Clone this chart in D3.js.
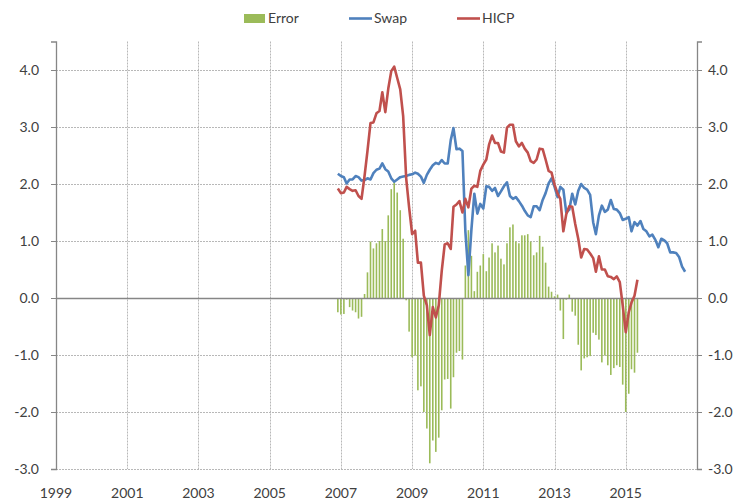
<!DOCTYPE html>
<html>
<head>
<meta charset="utf-8">
<script src="https://cdn.jsdelivr.net/npm/d3@7"></script>
<style>
  body { margin: 0; background: #fff; }
  svg { display: block; font-family: Lato, "Liberation Sans", sans-serif; }
</style>
</head>
<body>
<div id="chart"></div>
<script>
// monthly series, first value is Dec 2006
var startMonth = new Date(2006, 11, 1);

var swap = [
  2.18, 2.14, 2.12, 2.01, 2.08, 2.08, 2.14, 2.12, 2.06, 2.07,
  2.10, 2.08, 2.19, 2.25, 2.27, 2.36, 2.26, 2.22, 2.10, 2.04,
  2.08, 2.12, 2.13, 2.14, 2.16, 2.17, 2.20, 2.18, 2.13, 2.02,
  2.16, 2.25, 2.33, 2.37, 2.35, 2.42, 2.36, 2.36, 2.77, 2.98,
  2.61, 2.62, 2.58, 1.17, 0.40, 1.20, 1.83, 1.48, 1.65, 1.57,
  1.96, 1.95, 1.88, 1.93, 1.79, 1.87, 1.96, 2.03, 1.79, 1.74,
  1.77, 1.70, 1.62, 1.53, 1.45, 1.42, 1.61, 1.61, 1.54, 1.72,
  1.84, 2.01, 2.10, 1.95, 1.77, 1.95, 1.90, 1.50, 1.55, 1.83,
  1.64, 1.88, 2.00, 1.93, 1.90, 1.81, 1.33, 1.12, 1.45, 1.62,
  1.51, 1.55, 1.72, 1.56, 1.55, 1.49, 1.37, 1.39, 1.42, 1.17,
  1.33, 1.27, 1.35, 1.21, 1.17, 1.08, 1.11, 1.02, 0.89, 1.04,
  1.01, 0.96, 0.80, 0.80, 0.79, 0.72, 0.55, 0.46
];

var hicp = [
  1.92, 1.84, 1.85, 1.95, 1.91, 1.88, 1.89, 1.79, 1.74, 2.14,
  2.58, 3.07, 3.08, 3.24, 3.28, 3.61, 3.26, 3.67, 3.98, 4.06,
  3.86, 3.66, 3.19, 2.10, 1.59, 1.12, 1.18, 0.62, 0.62, 0.04,
  -0.13, -0.65, -0.16, -0.34, -0.13, 0.48, 0.94, 0.96, 0.86, 1.60,
  1.64, 1.70, 1.50, 1.74, 1.59, 1.92, 1.97, 1.95, 2.23, 2.34,
  2.43, 2.69, 2.85, 2.72, 2.72, 2.57, 2.55, 2.99, 3.04, 3.04,
  2.75, 2.66, 2.72, 2.62, 2.55, 2.40, 2.37, 2.43, 2.62, 2.61,
  2.43, 2.23, 2.20, 1.99, 1.83, 1.74, 1.17, 1.47, 1.61, 1.60,
  1.30, 1.04, 0.71, 0.86, 0.85, 0.78, 0.70, 0.46, 0.73, 0.50,
  0.50, 0.38, 0.37, 0.33, 0.38, 0.28, -0.13, -0.60, -0.25, -0.08,
  0.04, 0.32
];

var error = [
  -0.25, -0.29, -0.28, -0.03, -0.16, -0.22, -0.25, -0.36, -0.33, 0.07,
  0.45, 0.99, 0.87, 0.96, 1.00, 1.21, 1.00, 1.45, 1.91, 2.03,
  1.85, 1.54, 1.04, -0.04, -0.59, -1.04, -1.01, -1.62, -1.55, -2.00,
  -2.29, -2.90, -2.50, -2.70, -2.45, -1.97, -1.43, -1.42, -1.94, -1.39,
  -0.96, -0.93, -1.08, 0.57, 1.19, 0.74, 0.12, 0.46, 0.57, 0.77,
  0.47, 0.71, 0.96, 0.80, 0.92, 0.69, 0.59, 0.96, 1.24, 1.29,
  0.99, 0.96, 1.10, 1.10, 1.12, 0.99, 0.75, 0.80, 1.09, 0.90,
  0.62, 0.20, 0.11, 0.03, 0.06, -0.22, -0.72, -0.03, 0.06, -0.24,
  -0.31, -0.82, -1.27, -1.06, -1.04, -1.02, -0.61, -0.65, -0.73, -1.13,
  -1.01, -1.18, -1.35, -1.23, -1.18, -1.21, -1.52, -2.00, -1.68, -1.25,
  -1.31, -0.96
];

var yearTicks = [1999, 2001, 2003, 2005, 2007, 2009, 2011, 2013, 2015, 2017];
var valueTicks = [-3, -2, -1, 0, 1, 2, 3, 4];
var legendItems = ['Error', 'Swap', 'HICP'];

var width = 743;
var height = 504;
var colors = {Error: '#9bbb59', Swap: '#4f81bd', HICP: '#c0504d'};

var svg = d3.select('#chart').append('svg')
  .attr('width', width)
  .attr('height', height);

var x = d3.scaleTime()
  .domain([new Date(1999, 0, 1), new Date(2017, 0, 1)])
  .range([56, 697]);

var y = d3.scaleLinear()
  .domain([-3, 4.5])
  .range([469, 41.5]);

// hyphen instead of the unicode minus d3 uses
var fmt = d3.formatLocale({decimal: '.', thousands: ',', grouping: [3], currency: ['', ''], minus: '-'}).format('.1f');

function monthDate(i) {
  return d3.timeMonth.offset(startMonth, i);
}

// grid lines
svg.append('g')
  .selectAll('line')
  .data(valueTicks.filter(function (v) { return v !== 0; }))
  .enter().append('line')
  .attr('x1', x.range()[0]).attr('x2', x.range()[1])
  .attr('y1', function (d) { return y(d) + 0.5; })
  .attr('y2', function (d) { return y(d) + 0.5; })
  .attr('stroke', '#b8b8b8')
  .attr('stroke-dasharray', '2,1');

svg.append('g')
  .selectAll('line')
  .data(yearTicks.slice(1, -1))
  .enter().append('line')
  .attr('x1', function (d) { return Math.round(x(new Date(d, 0, 1))) + 0.5; })
  .attr('x2', function (d) { return Math.round(x(new Date(d, 0, 1))) + 0.5; })
  .attr('y1', y.range()[1]).attr('y2', y.range()[0])
  .attr('stroke', '#b8b8b8')
  .attr('stroke-dasharray', '2,1');

// error bars
svg.append('g')
  .selectAll('rect')
  .data(error)
  .enter().append('rect')
  .attr('x', function (d, i) { return x(monthDate(i)) - 0.8; })
  .attr('width', 1.6)
  .attr('y', function (d) { return y(Math.max(0, d)); })
  .attr('height', function (d) { return Math.abs(y(d) - y(0)); })
  .attr('fill', colors.Error);

// zero line and the two side axes
svg.append('line')
  .attr('x1', x.range()[0]).attr('x2', x.range()[1])
  .attr('y1', y(0) + 0.5).attr('y2', y(0) + 0.5)
  .attr('stroke', '#868686').attr('stroke-width', 1.3);

var leftAxis = d3.axisLeft(y).tickValues(valueTicks).tickFormat(fmt).tickSize(5).tickPadding(12);
var rightAxis = d3.axisRight(y).tickValues(valueTicks).tickFormat(fmt).tickSize(5).tickPadding(6);

[['left', leftAxis, 56], ['right', rightAxis, 697]].forEach(function (a) {
  var g = svg.append('g')
    .attr('transform', 'translate(' + a[2] + ',0)')
    .call(a[1]);
  g.select('.domain').attr('stroke', '#868686').attr('stroke-width', 1.3);
  g.selectAll('.tick line').attr('stroke', '#868686');
  g.selectAll('text')
    .attr('fill', '#404040')
    .style('font-size', '14px')
    .style('font-family', 'Lato, "Liberation Sans", sans-serif');
});

// year labels under the plot
svg.append('g')
  .selectAll('text')
  .data(yearTicks.slice(0, -1))
  .enter().append('text')
  .attr('x', function (d) { return x(new Date(d, 0, 1)); })
  .attr('y', 498)
  .attr('text-anchor', 'middle')
  .attr('fill', '#404040')
  .style('font-size', '14px')
  .text(function (d) { return d; });

// lines
var line = d3.line()
  .x(function (d, i) { return x(monthDate(i)); })
  .y(function (d) { return y(d); });

svg.append('path')
  .datum(swap)
  .attr('d', line)
  .attr('fill', 'none')
  .attr('stroke', colors.Swap)
  .attr('stroke-width', 2.6)
  .attr('stroke-linejoin', 'round');

svg.append('path')
  .datum(hicp)
  .attr('d', line)
  .attr('fill', 'none')
  .attr('stroke', colors.HICP)
  .attr('stroke-width', 2.6)
  .attr('stroke-linejoin', 'round');

// legend
var legendX = [244, 349, 457];
var legend = svg.append('g');
legendItems.forEach(function (name, i) {
  var g = legend.append('g').attr('transform', 'translate(' + legendX[i] + ',0)');
  if (name === 'Error') {
    g.append('rect').attr('x', 0).attr('y', 14).attr('width', 21).attr('height', 9).attr('fill', colors.Error);
    g.append('text').attr('x', 24).attr('y', 23).text(name);
  } else {
    g.append('line').attr('x1', 0).attr('x2', 23).attr('y1', 18.5).attr('y2', 18.5)
      .attr('stroke', colors[name]).attr('stroke-width', 2.6);
    g.append('text').attr('x', 25).attr('y', 23).text(name);
  }
});
legend.selectAll('text')
  .attr('fill', '#404040')
  .style('font-size', '14px');
</script>
</body>
</html>
